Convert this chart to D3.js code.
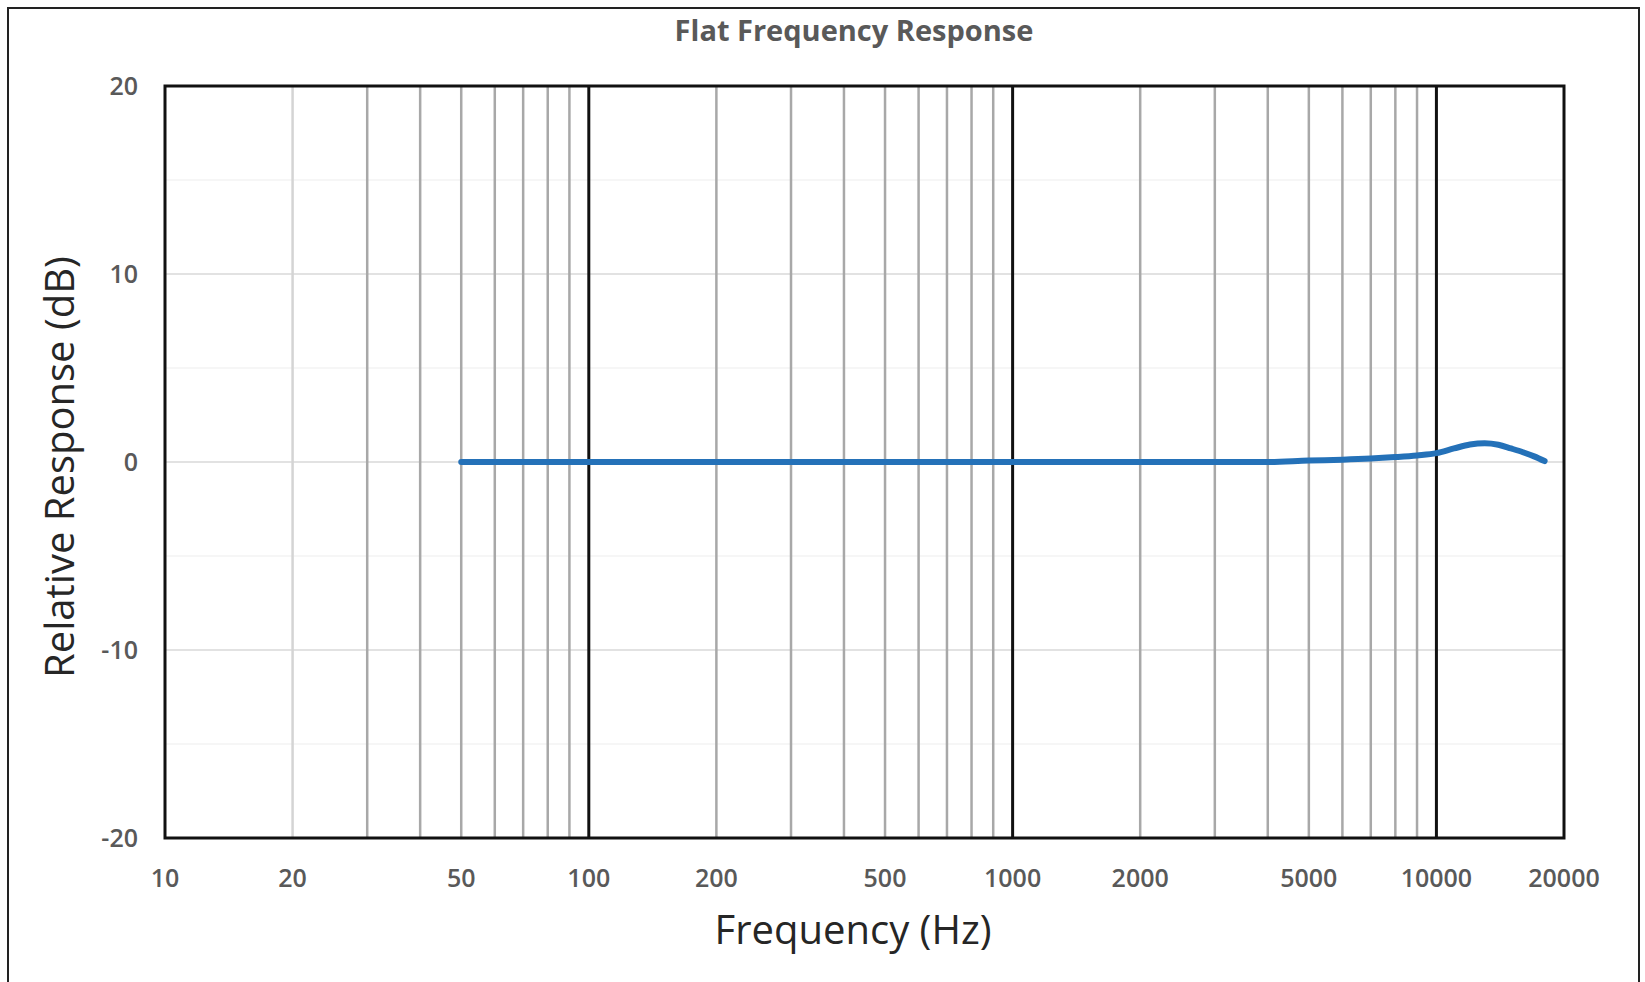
<!DOCTYPE html>
<html>
<head>
<meta charset="utf-8">
<script src="https://cdn.jsdelivr.net/npm/d3@7"></script>
<style>
  body { margin: 0; background: #fff; }
  text { font-family: "Open Sans", "Noto Sans", sans-serif; }
</style>
</head>
<body>
<script>
// measured frequency response (Hz -> dB)
const freqs = [50, 100, 200, 500, 1000, 2000, 4000, 5000, 6000, 7000, 8000, 9000, 10000, 11000, 12000, 13000, 14000, 15000, 16000, 17000, 18000];
const response = [0, 0, 0, 0, 0, 0, 0, 0.08, 0.12, 0.18, 0.26, 0.35, 0.47, 0.72, 0.93, 1.0, 0.92, 0.72, 0.52, 0.3, 0.05];

const xTickLabels = [10, 20, 50, 100, 200, 500, 1000, 2000, 5000, 10000, 20000];
const decades = [100, 1000, 10000];
const yTicks = [-20, -10, 0, 10, 20];
const yMinor = [-15, -5, 5, 15];

const width = 1645, height = 982;
const margin = ({top: 86, right: 81, bottom: 144, left: 165});

const svg = d3.select("body").append("svg")
  .attr("width", width)
  .attr("height", height);

// outer chart border
svg.append("rect")
  .attr("x", 8).attr("y", 8)
  .attr("width", width - 14).attr("height", height)
  .attr("fill", "none")
  .attr("stroke", "#222")
  .attr("stroke-width", 2);

const x = d3.scaleLog()
  .domain([10, 20000])
  .range([margin.left, width - margin.right]);

const y = d3.scaleLinear()
  .domain([-20, 20])
  .range([height - margin.bottom, margin.top]);

// horizontal grid
svg.append("g")
  .selectAll("line")
  .data(yMinor)
  .join("line")
  .attr("x1", x(10)).attr("x2", x(20000))
  .attr("y1", d => y(d)).attr("y2", d => y(d))
  .attr("stroke", "#f3f3f3")
  .attr("stroke-width", 1.5);

svg.append("g")
  .selectAll("line")
  .data(yTicks.filter(d => d > -20 && d < 20))
  .join("line")
  .attr("x1", x(10)).attr("x2", x(20000))
  .attr("y1", d => y(d)).attr("y2", d => y(d))
  .attr("stroke", "#d9d9d9")
  .attr("stroke-width", 1.5);

// vertical minor grid (every log subdivision)
const minorFreqs = x.ticks().filter(d => d > 10 && d < 20000 && decades.indexOf(d) < 0);
svg.append("g")
  .selectAll("line")
  .data(minorFreqs)
  .join("line")
  .attr("x1", d => x(d)).attr("x2", d => x(d))
  .attr("y1", y(20)).attr("y2", y(-20))
  .attr("stroke", d => d === 20 ? "#d4d4d4" : "#a8a8a8")
  .attr("stroke-width", 2.5);

// decade lines
svg.append("g")
  .selectAll("line")
  .data(decades)
  .join("line")
  .attr("x1", d => x(d)).attr("x2", d => x(d))
  .attr("y1", y(20)).attr("y2", y(-20))
  .attr("stroke", "#111")
  .attr("stroke-width", 3);

// plot frame
svg.append("rect")
  .attr("x", x(10)).attr("y", y(20))
  .attr("width", x(20000) - x(10))
  .attr("height", y(-20) - y(20))
  .attr("fill", "none")
  .attr("stroke", "#111")
  .attr("stroke-width", 3);

// response curve
const line = d3.line()
  .x((d, i) => x(freqs[i]))
  .y(d => y(d))
  .curve(d3.curveMonotoneX);

svg.append("path")
  .datum(response)
  .attr("d", line)
  .attr("fill", "none")
  .attr("stroke", "#2471b8")
  .attr("stroke-width", 6)
  .attr("stroke-linecap", "round")
  .attr("stroke-linejoin", "round");

// tick labels
svg.append("g")
  .selectAll("text")
  .data(xTickLabels)
  .join("text")
  .attr("x", d => x(d))
  .attr("y", height - margin.bottom + 40)
  .attr("dy", "0.35em")
  .attr("text-anchor", "middle")
  .attr("font-size", 25)
  .attr("font-weight", 600)
  .attr("fill", "#595959")
  .text(d => d);

svg.append("g")
  .selectAll("text")
  .data(yTicks)
  .join("text")
  .attr("x", 138)
  .attr("y", d => y(d))
  .attr("dy", "0.35em")
  .attr("text-anchor", "end")
  .attr("font-size", 25)
  .attr("font-weight", 600)
  .attr("fill", "#595959")
  .text(d => d);

// titles
svg.append("text")
  .attr("x", 854).attr("y", 31)
  .attr("dy", "0.35em")
  .attr("text-anchor", "middle")
  .attr("font-size", 29)
  .attr("font-weight", 700)
  .attr("fill", "#595959")
  .text("Flat Frequency Response");

svg.append("text")
  .attr("x", 853).attr("y", 930)
  .attr("dy", "0.35em")
  .attr("text-anchor", "middle")
  .attr("font-size", 40)
  .attr("fill", "#262626")
  .text("Frequency (Hz)");

svg.append("text")
  .attr("transform", "translate(60,467) rotate(-90)")
  .attr("dy", "0.35em")
  .attr("text-anchor", "middle")
  .attr("font-size", 40)
  .attr("fill", "#262626")
  .text("Relative Response (dB)");
</script>
</body>
</html>
